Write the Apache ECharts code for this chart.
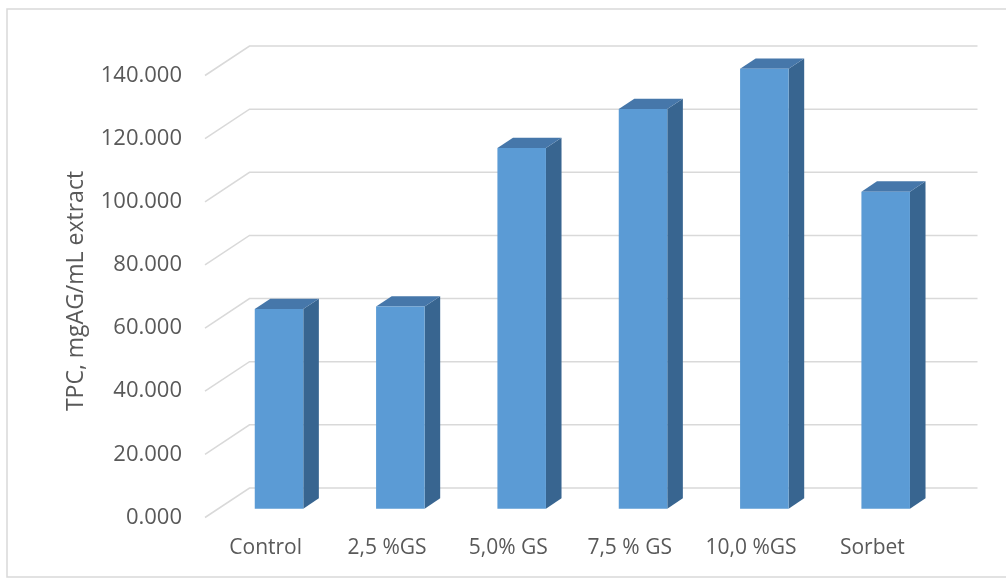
<!DOCTYPE html>
<html>
<head>
<meta charset="utf-8">
<script src="https://cdn.jsdelivr.net/npm/echarts@6/dist/echarts.min.js"></script>
<style>
  html, body { margin: 0; padding: 0; background: #ffffff; }
  #chart { width: 1006px; height: 579px; }
</style>
</head>
<body>
<div id="chart"></div>
<script>
// Total phenolic content per sample
const categories = ['Control', '2,5 %GS', '5,0% GS', '7,5 % GS', '10,0 %GS', 'Sorbet'];
const tpcValues = [63.2, 64.0, 114.2, 126.6, 139.3, 100.4];
const yTicks = [0, 20, 40, 60, 80, 100, 120, 140];
const yAxisTitle = 'TPC, mgAG/mL extract';

// Oblique depth of the 3D frame (pixels from front plane to back wall)
const DEPTH_X = 44.5;
const DEPTH_Y = -29.5;
// Bar position inside the depth, as fractions of the full depth
const BAR_FRONT = 0.30;
const BAR_BACK = 0.65;
const BAR_WIDTH = 0.40;

const FRONT_COLOR = '#5b9bd5';
const TOP_COLOR = '#4677aa';
const SIDE_COLOR = '#386590';
const GRID_COLOR = '#d9d9d9';
const TEXT_COLOR = '#595959';
const FONT = '"Open Sans", sans-serif';

const chart = echarts.init(document.getElementById('chart'));

// Wall grid lines: short diagonal on the side wall, then across the back wall
function renderGridLine(params, api) {
  const cs = params.coordSys;
  const y = api.coord([0, api.value(1)])[1];
  const xl = cs.x;
  const xr = cs.x + cs.width;
  return {
    type: 'polyline',
    shape: {
      points: [
        [xl, y],
        [xl + DEPTH_X, y + DEPTH_Y],
        [xr + DEPTH_X, y + DEPTH_Y]
      ]
    },
    style: { stroke: GRID_COLOR, lineWidth: 1.5, fill: null }
  };
}

// Box-shaped bar: front face, top face and right side face
function renderBar(params, api) {
  const i = api.value(0);
  const v = api.value(1);
  const base = api.coord([i, 0]);
  const top = api.coord([i, v]);
  const bw = api.size([1, 0])[0] * BAR_WIDTH;
  const ox = DEPTH_X * BAR_FRONT;
  const oy = DEPTH_Y * BAR_FRONT;
  const ddx = DEPTH_X * (BAR_BACK - BAR_FRONT);
  const ddy = DEPTH_Y * (BAR_BACK - BAR_FRONT);
  const x0 = base[0] - bw / 2 + ox;
  const x1 = x0 + bw;
  const yb = base[1] + oy;
  const yt = top[1] + oy;
  return {
    type: 'group',
    children: [
      {
        type: 'polygon',
        shape: { points: [[x1, yb], [x1, yt], [x1 + ddx, yt + ddy], [x1 + ddx, yb + ddy]] },
        style: { fill: SIDE_COLOR }
      },
      {
        type: 'polygon',
        shape: { points: [[x0, yt], [x1, yt], [x1 + ddx, yt + ddy], [x0 + ddx, yt + ddy]] },
        style: { fill: TOP_COLOR }
      },
      {
        type: 'rect',
        shape: { x: x0, y: yt, width: bw, height: yb - yt },
        style: { fill: FRONT_COLOR }
      }
    ]
  };
}

chart.setOption({
  animation: false,
  backgroundColor: '#ffffff',
  grid: { left: 205, right: 73, top: 75.5, bottom: 61.5 },
  xAxis: {
    type: 'category',
    data: categories,
    axisLine: { show: false },
    axisTick: { show: false },
    axisLabel: { interval: 0, color: TEXT_COLOR, fontFamily: FONT, fontSize: 21, margin: 20 }
  },
  yAxis: {
    type: 'value',
    min: yTicks[0],
    max: yTicks[yTicks.length - 1],
    interval: yTicks[1] - yTicks[0],
    axisLine: { show: false },
    axisTick: { show: false },
    splitLine: { show: false },
    axisLabel: {
      color: TEXT_COLOR, fontFamily: FONT, fontSize: 22, margin: 23,
      formatter: (v) => v.toFixed(3)
    }
  },
  graphic: [
    {
      type: 'rect',
      shape: { x: 7, y: 9, width: 1010, height: 568 },
      style: { fill: null, stroke: '#d9d9d9', lineWidth: 1.5 },
      silent: true
    },
    {
      type: 'text',
      x: 76, y: 291,
      rotation: Math.PI / 2,
      style: {
        text: yAxisTitle,
        fill: TEXT_COLOR,
        font: '23px "Open Sans", sans-serif',
        align: 'center',
        verticalAlign: 'middle'
      }
    }
  ],
  series: [
    {
      type: 'custom',
      renderItem: renderGridLine,
      encode: { x: 0, y: 1 },
      data: yTicks.map((v) => [0, v]),
      silent: true,
      z: 1
    },
    {
      type: 'custom',
      renderItem: renderBar,
      encode: { x: 0, y: 1 },
      data: tpcValues.map((v, i) => [i, v]),
      z: 2
    }
  ]
});
</script>
</body>
</html>
